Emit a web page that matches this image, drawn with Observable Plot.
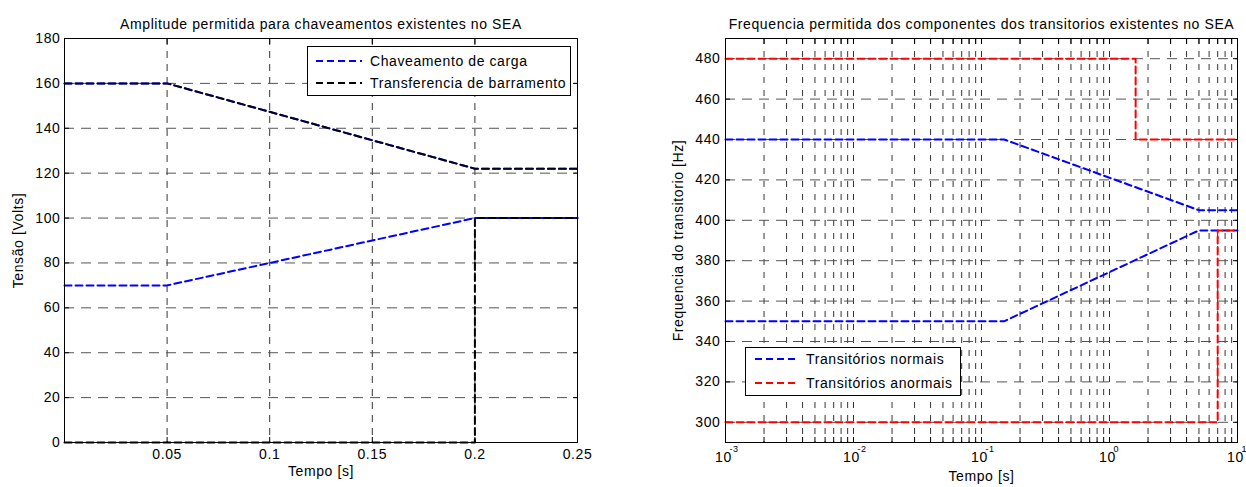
<!DOCTYPE html>
<html>
<head>
<meta charset="utf-8">
<script src="https://cdn.jsdelivr.net/npm/d3@7"></script>
<script src="https://cdn.jsdelivr.net/npm/@observablehq/plot@0.6"></script>
<style>
  body { margin: 0; background: #fff; }
  #wrap { position: relative; width: 1246px; height: 487px; overflow: hidden; font-family: "Liberation Sans", Arial, sans-serif; letter-spacing: 0.6px; }
  .panel { position: absolute; top: 0; }
  .legend { position: absolute; border: 1px solid #000; background: #fff; font-size: 14px; box-sizing: border-box; }
  .legend .row { position: absolute; white-space: nowrap; }
  .legend svg { position: absolute; }
</style>
</head>
<body>
<div id="wrap"></div>
<script>
// ---------- Left panel data ----------
const leftTitle = "Amplitude permitida para chaveamentos existentes no SEA";
const leftXLabel = "Tempo [s]";
const leftYLabel = "Tensão [Volts]";
const leftXTicks = [0.05, 0.1, 0.15, 0.2, 0.25];
const leftYTicks = [0, 20, 40, 60, 80, 100, 120, 140, 160, 180];
const cargaT = [0, 0.05, 0.2, 0.25];
const cargaV = [70, 70, 100, 100];
const upperT = [0, 0.05, 0.2, 0.25];
const upperV = [160, 160, 122, 122];
const barrStepT = [0, 0.2, 0.2, 0.25];
const barrStepV = [0, 0, 100, 100];
const leftSeries = ["Chaveamento de carga", "Transferencia de barramento"];

// ---------- Right panel data ----------
const rightTitle = "Frequencia permitida dos componentes dos transitorios existentes no SEA";
const rightXLabel = "Tempo [s]";
const rightYLabel = "Frequencia do transitorio [Hz]";
const rightDecades = [0.001, 0.01, 0.1, 1, 10];
const rightDecadeBase = "10";
const rightDecadeExp = ["-3", "-2", "-1", "0", "1"];
const rightYTicks = [300, 320, 340, 360, 380, 400, 420, 440, 460, 480];
const normalT = [0.001, 0.15, 5, 10];
const normalUpperV = [440, 440, 405, 405];
const normalLowerV = [350, 350, 395, 395];
const abnUpperT = [0.001, 1.6, 1.6, 10];
const abnUpperV = [480, 480, 440, 440];
const abnLowerT = [0.001, 7, 7, 10];
const abnLowerV = [300, 300, 395, 395];
const rightSeries = ["Transitórios normais", "Transitórios anormais"];

const BLUE = "#0000ff", BLACK = "#000000", RED = "#ff0000";
const toRows = (ts, vs) => ts.map((t, i) => ({t, v: vs[i]}));

const font = {fontFamily: "'Liberation Sans', Arial, sans-serif", fontSize: "14px", background: "white", color: "black", overflow: "visible", letterSpacing: "0.6px"};
const vGrid = {stroke: "#000", strokeOpacity: 1, strokeWidth: 0.8};
const hGrid = {stroke: "#555", strokeOpacity: 1, strokeWidth: 1};
const lineStyle = {strokeWidth: 2, strokeDasharray: "7,4"};

const wrap = document.getElementById("wrap");

// ---------- Left plot ----------
const leftGridX = leftXTicks.filter(d => d < 0.25);
const leftGridY = leftYTicks.filter(d => d > 0 && d < 180);
const left = Plot.plot({
  width: 620, height: 487,
  marginLeft: 64, marginRight: 43, marginTop: 38, marginBottom: 45,
  style: font,
  x: {domain: [0, 0.25]},
  y: {domain: [0, 180]},
  marks: [
    Plot.gridX({ticks: leftGridX, ...vGrid, strokeDasharray: "7,6"}),
    Plot.gridY({ticks: leftGridY, ...hGrid, strokeDasharray: "10,7"}),
    Plot.axisX({ticks: leftXTicks, tickSize: 0, tickPadding: 7, tickFormat: d => String(d), label: null}),
    Plot.axisY({ticks: leftYTicks, tickSize: 0, tickPadding: 4, label: null}),
    Plot.axisX({anchor: "bottom", ticks: leftXTicks, tickSize: -5, tickFormat: () => "", label: null}),
    Plot.axisX({anchor: "top", ticks: leftXTicks, tickSize: -5, tickFormat: () => "", label: null}),
    Plot.axisY({anchor: "left", ticks: leftYTicks, tickSize: -5, tickFormat: () => "", label: null}),
    Plot.axisY({anchor: "right", ticks: leftYTicks, tickSize: -5, tickFormat: () => "", label: null}),
    Plot.line(toRows(cargaT, cargaV), {x: "t", y: "v", stroke: BLUE, ...lineStyle}),
    Plot.line(toRows(upperT, upperV), {x: "t", y: "v", stroke: BLUE, ...lineStyle}),
    Plot.line(toRows(upperT, upperV), {x: "t", y: "v", stroke: BLACK, strokeOpacity: 0.85, ...lineStyle}),
    Plot.line(toRows(barrStepT, barrStepV), {x: "t", y: "v", stroke: BLACK, ...lineStyle}),
    Plot.frame({stroke: "#000", strokeWidth: 1}),
    Plot.text([leftTitle], {frameAnchor: "top", dy: -19, fontSize: 14}),
    Plot.text([leftXLabel], {frameAnchor: "bottom", dy: 33, fontSize: 14}),
    Plot.text([leftYLabel], {frameAnchor: "left", textAnchor: "middle", rotate: -90, dx: -46, fontSize: 14})
  ]
});
left.classList.add("panel");
left.style.left = "0px";
wrap.appendChild(left);

// ---------- Right plot ----------
const minorTicks = [];
for (const dec of [0.001, 0.01, 0.1, 1]) for (let m = 2; m <= 9; m++) minorTicks.push(+(dec * m).toPrecision(3));
const rightGridX = [0.01, 0.1, 1].concat(minorTicks);
const rightGridY = rightYTicks;
const allXTicks = rightDecades.concat(minorTicks);
const right = Plot.plot({
  width: 626, height: 487,
  marginLeft: 105, marginRight: 9, marginTop: 38, marginBottom: 45,
  style: font,
  x: {type: "log", domain: [0.001, 10]},
  y: {domain: [290, 490]},
  marks: [
    Plot.gridX({ticks: rightGridX, ...vGrid, strokeDasharray: "6,7"}),
    Plot.gridY({ticks: rightGridY, ...hGrid, strokeDasharray: "10,7"}),
    Plot.axisY({ticks: rightYTicks, tickSize: 0, tickPadding: 5, label: null}),
    Plot.axisX({anchor: "bottom", ticks: allXTicks, tickSize: -5, tickFormat: () => "", label: null}),
    Plot.axisX({anchor: "top", ticks: allXTicks, tickSize: -5, tickFormat: () => "", label: null}),
    Plot.axisY({anchor: "left", ticks: rightYTicks, tickSize: -5, tickFormat: () => "", label: null}),
    Plot.axisY({anchor: "right", ticks: rightYTicks, tickSize: -5, tickFormat: () => "", label: null}),
    Plot.line(toRows(normalT, normalUpperV), {x: "t", y: "v", stroke: BLUE, ...lineStyle}),
    Plot.line(toRows(normalT, normalLowerV), {x: "t", y: "v", stroke: BLUE, ...lineStyle}),
    Plot.line(toRows(abnUpperT, abnUpperV), {x: "t", y: "v", stroke: RED, ...lineStyle}),
    Plot.line(toRows(abnLowerT, abnLowerV), {x: "t", y: "v", stroke: RED, ...lineStyle}),
    Plot.frame({stroke: "#000", strokeWidth: 1}),
    Plot.text(rightDecades, {x: d => d, frameAnchor: "bottom", dy: 19, dx: -2, text: () => rightDecadeBase, fontSize: 14}),
    Plot.text(rightDecades, {x: d => d, frameAnchor: "bottom", dy: 9, dx: 4, textAnchor: "start", text: (d, i) => rightDecadeExp[i], fontSize: 9, letterSpacing: "0px"}),
    Plot.text([rightTitle], {frameAnchor: "top", dy: -19, fontSize: 14}),
    Plot.text([rightXLabel], {frameAnchor: "bottom", dy: 38, fontSize: 14}),
    Plot.text([rightYLabel], {frameAnchor: "left", textAnchor: "middle", rotate: -90, dx: -47, fontSize: 14})
  ]
});
right.classList.add("panel");
right.style.left = "620px";
wrap.appendChild(right);

// ---------- Legends ----------
function legend(box, entries) {
  const div = document.createElement("div");
  div.className = "legend";
  Object.assign(div.style, {left: box.x + "px", top: box.y + "px", width: box.w + "px", height: box.h + "px"});
  entries.forEach((e, i) => {
    const cy = box.rows[i] - box.y - 1;
    const svg = document.createElementNS("http://www.w3.org/2000/svg", "svg");
    svg.setAttribute("width", box.sampleW + 4);
    svg.setAttribute("height", 6);
    svg.style.left = (box.sampleX - box.x - 1) + "px";
    svg.style.top = (cy - 3) + "px";
    const ln = document.createElementNS("http://www.w3.org/2000/svg", "line");
    ln.setAttribute("x1", 0); ln.setAttribute("x2", box.sampleW);
    ln.setAttribute("y1", 3); ln.setAttribute("y2", 3);
    ln.setAttribute("stroke", e.color); ln.setAttribute("stroke-width", 2);
    ln.setAttribute("stroke-dasharray", "7,4");
    svg.appendChild(ln);
    div.appendChild(svg);
    const row = document.createElement("div");
    row.className = "row";
    row.textContent = e.label;
    row.style.left = (box.textX - box.x - 1) + "px";
    row.style.top = (cy - 9) + "px";
    row.style.lineHeight = "18px";
    div.appendChild(row);
  });
  wrap.appendChild(div);
}
legend({x: 307, y: 46, w: 264, h: 50, rows: [61, 83], sampleX: 316, sampleW: 46, textX: 370},
  [{label: leftSeries[0], color: BLUE}, {label: leftSeries[1], color: BLACK}]);
legend({x: 745, y: 347, w: 216, h: 49, rows: [359, 383], sampleX: 755, sampleW: 44, textX: 806},
  [{label: rightSeries[0], color: BLUE}, {label: rightSeries[1], color: RED}]);
</script>
</body>
</html>
